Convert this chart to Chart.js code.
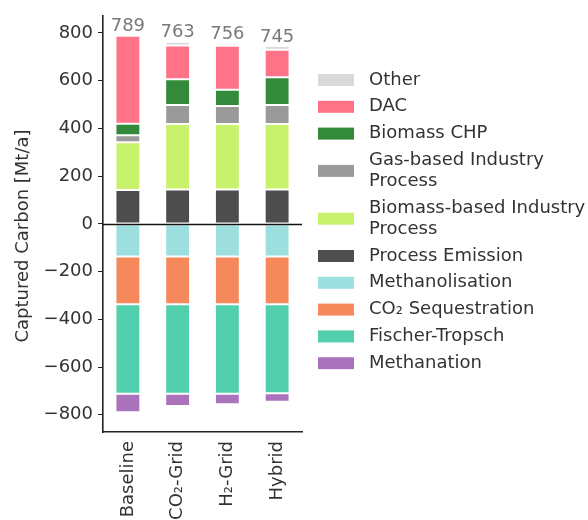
<!DOCTYPE html>
<html>
<head>
<meta charset="utf-8">
<script src="https://cdn.jsdelivr.net/npm/chart.js@4.4.1/dist/chart.umd.min.js"></script>
<style>
  html, body { margin: 0; padding: 0; background: #ffffff; }
  #wrap { width: 588px; height: 520px; position: relative; }
</style>
</head>
<body>
<div id="wrap"><canvas id="c" width="588" height="520"></canvas></div>
<script>
// ---- data ----
const categories = ['Baseline', 'CO\u2082-Grid', 'H\u2082-Grid', 'Hybrid'];
const totals = [789, 763, 756, 745];
const yTicks = [-800, -600, -400, -200, 0, 200, 400, 600, 800];

const methanolisation = [-137, -137, -137, -137];
const co2Sequestration = [-200, -200, -200, -200];
const fischerTropsch = [-375, -375, -375, -373];
const methanation = [-77, -51, -44, -35];
const processEmission = [142, 144, 144, 144];
const biomassIndustry = [200, 275, 275, 275];
const gasIndustry = [29, 79, 75, 79];
const biomassCHP = [49, 108, 68, 117];
const dac = [368, 142, 185, 115];
const other = [1, 15, 9, 15];

const seriesNames = {
  methanolisation: ['Methanolisation'],
  co2Sequestration: ['CO\u2082 Sequestration'],
  fischerTropsch: ['Fischer-Tropsch'],
  methanation: ['Methanation'],
  processEmission: ['Process Emission'],
  biomassIndustry: ['Biomass-based Industry', 'Process'],
  gasIndustry: ['Gas-based Industry', 'Process'],
  biomassCHP: ['Biomass CHP'],
  dac: ['DAC'],
  other: ['Other']
};
const colors = {
  methanolisation: '#9ddfdf',
  co2Sequestration: '#f5895b',
  fischerTropsch: '#52d0ae',
  methanation: '#ac73bd',
  processEmission: '#4d4d4d',
  biomassIndustry: '#c8f26b',
  gasIndustry: '#9a9a9a',
  biomassCHP: '#338a3a',
  dac: '#ff7388',
  other: '#dadada'
};
const stackOrder = ['methanolisation', 'co2Sequestration', 'fischerTropsch', 'methanation',
  'processEmission', 'biomassIndustry', 'gasIndustry', 'biomassCHP', 'dac', 'other'];
const seriesData = { methanolisation, co2Sequestration, fischerTropsch, methanation,
  processEmission, biomassIndustry, gasIndustry, biomassCHP, dac, other };
const legendOrder = ['other', 'dac', 'biomassCHP', 'gasIndustry', 'biomassIndustry',
  'processEmission', 'methanolisation', 'co2Sequestration', 'fischerTropsch', 'methanation'];

const FONT = "'DejaVu Sans', sans-serif";
const FS = 18;
const TXT = '#333333';

const datasets = stackOrder.map(k => ({
  label: seriesNames[k].join(' '),
  data: seriesData[k],
  backgroundColor: colors[k],
  borderColor: 'rgba(255,255,255,0.45)',
  borderWidth: 1,
  borderSkipped: false,
  stack: 's',
  barPercentage: 0.5,
  categoryPercentage: 1.0
}));

const extras = {
  id: 'extras',
  afterDatasetsDraw(chart) {
    const ctx = chart.ctx;
    const y = chart.scales.y, x = chart.scales.x;
    const ca = chart.chartArea;
    // zero line
    ctx.save();
    ctx.strokeStyle = '#111';
    ctx.lineWidth = 1.6;
    ctx.beginPath();
    const y0 = Math.round(y.getPixelForValue(0)) + 0.5;
    ctx.moveTo(ca.left, y0);
    ctx.lineTo(ca.right, y0);
    ctx.stroke();
    // totals
    ctx.fillStyle = '#7a7a7a';
    ctx.font = FS + 'px ' + FONT;
    ctx.textAlign = 'center';
    ctx.textBaseline = 'alphabetic';
    totals.forEach((t, i) => {
      const pos = stackOrder.slice(4).reduce((s, k) => s + seriesData[k][i], 0);
      ctx.fillText(String(t), x.getPixelForValue(i), y.getPixelForValue(pos) - 4.5);
    });
    // y title
    ctx.fillStyle = TXT;
    ctx.translate(23, 236);
    ctx.rotate(-Math.PI / 2);
    ctx.textAlign = 'center';
    ctx.textBaseline = 'middle';
    ctx.fillText('Captured Carbon [Mt/a]', 0, 0);
    ctx.restore();
    // legend
    ctx.save();
    ctx.font = FS + 'px ' + FONT;
    ctx.textAlign = 'left';
    ctx.textBaseline = 'middle';
    let ly = 80;
    legendOrder.forEach(k => {
      const lines = seriesNames[k];
      const n = lines.length;
      const boxC = ly + (n - 1) * 21 / 2;
      ctx.fillStyle = colors[k];
      ctx.fillRect(318, boxC - 6, 36, 12);
      ctx.fillStyle = TXT;
      lines.forEach((ln, j) => ctx.fillText(ln, 369, ly + j * 21));
      ly += (n - 1) * 21 + 26.8;
    });
    ctx.restore();
  }
};

new Chart(document.getElementById('c'), {
  type: 'bar',
  data: { labels: categories, datasets },
  plugins: [extras],
  options: {
    responsive: false,
    animation: false,
    devicePixelRatio: 1,
    layout: { padding: { top: 13, right: 286, left: 0, bottom: 0 } },
    plugins: { legend: { display: false }, tooltip: { enabled: false } },
    scales: {
      x: {
        stacked: true,
        offset: true,
        grid: { display: false, drawTicks: false },
        border: { display: true, color: '#222', width: 1.6 },
        ticks: {
          minRotation: 90, maxRotation: 90, padding: 9,
          color: TXT, font: { family: FONT, size: FS }
        },
        afterFit(s) { s.height = 88; }
      },
      y: {
        stacked: true,
        min: -872, max: 872,
        afterBuildTicks(s) { s.ticks = yTicks.map(v => ({ value: v })); },
        grid: { display: true, drawOnChartArea: false, drawTicks: true, tickLength: 5, color: '#222', lineWidth: 1 },
        border: { display: true, color: '#222', width: 1.6 },
        ticks: {
          color: TXT, padding: 5, font: { family: FONT, size: FS },
          callback: v => (v < 0 ? '\u2212' + Math.abs(v) : String(v))
        },
        afterFit(s) { s.width = 103; }
      }
    }
  }
});
</script>
</body>
</html>
